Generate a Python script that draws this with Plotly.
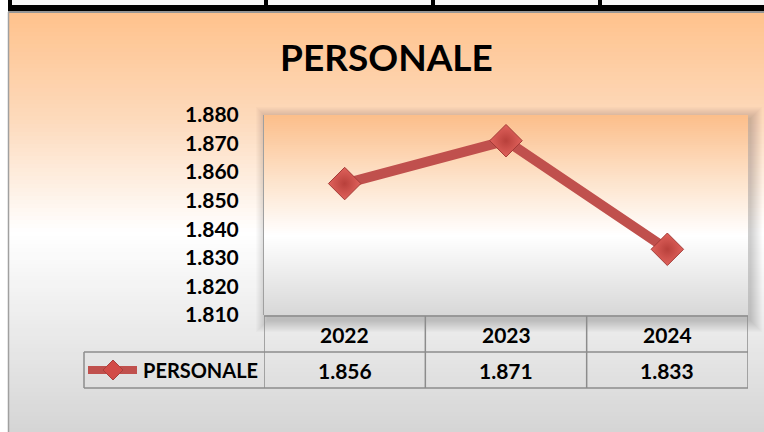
import plotly.graph_objects as go

# ---- data ----
years = ["2022", "2023", "2024"]
personale = [1856, 1871, 1833]
series_name = "PERSONALE"
chart_title = "PERSONALE"
y_min, y_max, y_step = 1810, 1880, 10

# ---- geometry helpers (pixels -> paper) ----
W, H = 764, 432
L, R, T, B = 264, 748, 115, 315


def px(x):
    return (x - L) / (R - L)


def py(y):
    return (B - y) / (B - T)


def interp(stops, y):
    if y <= stops[0][0]:
        return stops[0][1]
    for (y0, c0), (y1, c1) in zip(stops, stops[1:]):
        if y0 <= y <= y1:
            t = (y - y0) / (y1 - y0)
            return tuple(round(a + (b - a) * t) for a, b in zip(c0, c1))
    return stops[-1][1]


def bands(x0, x1, y0, y1, stops, step):
    out = []
    y = y0
    while y < y1:
        c = interp(stops, y + step / 2)
        out.append(dict(type="rect", xref="paper", yref="paper", layer="below",
                        x0=px(x0), x1=px(x1), y0=py(min(y + step + 0.6, y1)), y1=py(y),
                        fillcolor="rgb(%d,%d,%d)" % c, line=dict(width=0)))
        y += step
    return out


def rect(x0, x1, y0, y1, color, layer="below"):
    return dict(type="rect", xref="paper", yref="paper", layer=layer,
                x0=px(x0), x1=px(x1), y0=py(y1), y1=py(y0),
                fillcolor=color, line=dict(width=0))


def hline(x0, x1, y, color, w=1.5, layer="above"):
    return dict(type="line", xref="paper", yref="paper", layer=layer,
                x0=px(x0), x1=px(x1), y0=py(y), y1=py(y), line=dict(color=color, width=w))


def vline(x, y0, y1, color, w=1.5, layer="above"):
    return dict(type="line", xref="paper", yref="paper", layer=layer,
                x0=px(x), x1=px(x), y0=py(y0), y1=py(y1), line=dict(color=color, width=w))


shapes = []
# outer white
shapes.append(rect(0, W, 0, H, "white"))
# chart background gradient
outer_stops = [(12, (255, 194, 140)), (120, (253, 218, 188)), (232, (255, 255, 255)),
               (432, (213, 213, 213))]
shapes += bands(9, W, 12, H, outer_stops, 4)
# top table fragment
shapes.append(rect(8, W, 0, 11, "black"))
for a, b in [(12, 264), (268, 431), (435, 598), (602, W)]:
    shapes.append(rect(a, b, 0, 5, "rgb(248,248,248)"))
# chart border
shapes.append(hline(8, W, 12, "rgb(150,150,150)", 2, "below"))
shapes.append(vline(8.5, 12, H, "rgb(160,160,160)", 1.5, "below"))
# soft shadow around plot area
for i in range(1, 13):
    shapes.append(rect(L - i + 4, R + i + 2, T - i + 4, B + i + 5, "rgba(0,0,0,0.016)"))
# plot area gradient
plot_stops = [(115, (252, 190, 138)), (175, (253, 224, 198)), (235, (255, 255, 255)),
              (315, (216, 216, 216))]
shapes += bands(L, R, T, B, plot_stops, 2)

# data table lines
grid = "rgb(140,140,140)"
shapes.append(hline(L, R, 316, grid))
shapes.append(hline(84, R, 352, grid))
shapes.append(hline(84, R, 388, grid))
shapes.append(vline(84, 352, 388, grid))
for k in range(len(years) + 1):
    shapes.append(dict(type="line", xref="x", yref="paper", layer="above",
                       x0=k - 0.5, x1=k - 0.5, y0=py(316), y1=py(388),
                       line=dict(color=grid, width=1.5)))

# legend key in table
red = "#C0504D"
shapes.append(dict(type="line", xref="paper", yref="paper", layer="above",
                   x0=px(88), x1=px(137), y0=py(370), y1=py(370),
                   line=dict(color=red, width=8)))
cx, cy, d = 113, 370, 10
shapes.append(dict(type="path", xref="paper", yref="paper", layer="above",
                   path="M %f,%f L %f,%f L %f,%f L %f,%f Z" % (
                       px(cx), py(cy - d), px(cx + d), py(cy), px(cx), py(cy + d), px(cx - d), py(cy)),
                   fillcolor="#D24B47", line=dict(color="#A8403C", width=1)))

fig = go.Figure()
fig.add_trace(go.Scatter(
    x=years, y=personale, mode="lines+markers", name=series_name,
    line=dict(color=red, width=10),
    marker=dict(symbol="diamond", size=25, color="#E0625C",
                gradient=dict(type="radial", color="#B8403B"),
                line=dict(color="#A33A36", width=1)),
    cliponaxis=False, hoverinfo="skip"))

font_family = "Lato"
tf = dict(family=font_family, size=21, color="black", weight="bold")
lf = dict(family=font_family, size=20, color="black", weight="bold")
annotations = [dict(text=chart_title, xref="paper", yref="paper", x=px(386), y=py(57),
                    showarrow=False, xanchor="center", yanchor="middle",
                    font=dict(family=font_family, size=37, color="black", weight="bold"))]
for i, yr in enumerate(years):
    annotations.append(dict(text=yr, xref="x", yref="paper", x=i, y=py(334), showarrow=False,
                            xanchor="center", yanchor="middle", font=tf))
    annotations.append(dict(text=f"{personale[i]:,}".replace(",", "."), xref="x", yref="paper",
                            x=i, y=py(370), showarrow=False, xanchor="center", yanchor="middle",
                            font=tf))
annotations.append(dict(text=series_name, xref="paper", yref="paper", x=px(260), y=py(370),
                        xanchor="right", yanchor="middle", showarrow=False, font=lf))

fig.update_layout(
    width=W, height=H, margin=dict(l=L, r=W - R, t=T, b=H - B),
    paper_bgcolor="white", plot_bgcolor="rgba(0,0,0,0)",
    separators=",.", showlegend=False,
    shapes=shapes, annotations=annotations,
    xaxis=dict(type="category", range=[-0.5, len(years) - 0.5], showticklabels=False,
               showgrid=False, zeroline=False, showline=False, fixedrange=True),
    yaxis=dict(range=[y_min, y_max], dtick=y_step, tick0=y_min, tickformat=",d",
               showgrid=False, zeroline=False, showline=True, linecolor="rgb(160,160,160)",
               linewidth=1, ticks="", ticklabelstandoff=20, fixedrange=True, tickfont=tf),
)

fig.write_html("out.html", config=dict(displayModeBar=False, staticPlot=True),
               post_script="document.body.style.margin='0';document.body.style.padding='0';"
                           "document.body.style.overflow='hidden';")
